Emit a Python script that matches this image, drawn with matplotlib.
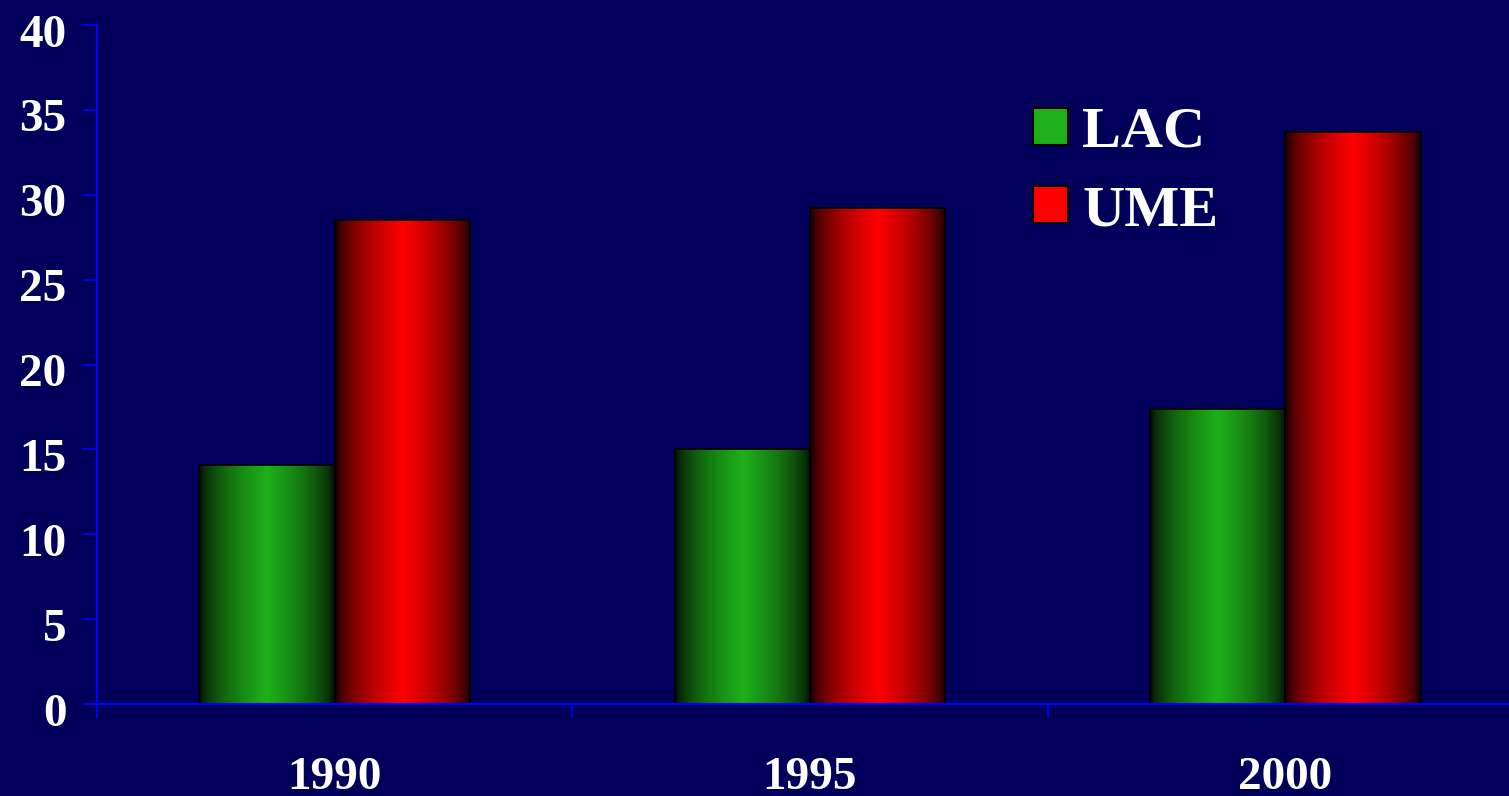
import numpy as np
import matplotlib
matplotlib.use('Agg')
from matplotlib import pyplot as plt
from matplotlib import transforms
from matplotlib.patches import Patch
from matplotlib.colors import to_rgb

years = ['1990', '1995', '2000']
lac = [14.1, 15.0, 17.4]
ume = [28.5, 29.2, 33.7]
series_names = ['LAC', 'UME']

BG = '#00005a'
AXIS_BLUE = '#0000ff'
GREEN = '#1eb01a'
RED = '#ff0000'

plt.rcParams['font.family'] = ['Liberation Serif', 'DejaVu Serif']
plt.rcParams['font.weight'] = 'bold'


def shade_bars(ax, bars, color):
    """Fill each bar with a cylinder-like shading: dark edges, bright middle."""
    t = np.linspace(0, 1, 256)
    profile = np.clip(1 - np.abs(t - 0.5) / 0.5, 0, 1) ** 0.55
    rgb = np.array(to_rgb(color))
    img = (profile[:, None] * rgb[None, :])[None, :, :]
    for b in bars:
        x, y = b.get_x(), b.get_y()
        w, h = b.get_width(), b.get_height()
        im = ax.imshow(img, extent=(x, x + w, y, y + h), aspect='auto',
                       interpolation='bilinear', zorder=2)
        im.set_clip_path(b)


fig = plt.figure(figsize=(15.09, 7.96), dpi=100, facecolor=BG)
ax = fig.add_axes([97 / 1509, 92 / 796, 1426 / 1509, 679 / 796])
ax.set_facecolor(BG)

x = np.arange(len(years))
w = 0.285
bars_lac = ax.bar(x - w / 2, lac, w, color=GREEN, edgecolor='#000000',
                  linewidth=1.2, zorder=3)
bars_ume = ax.bar(x + w / 2, ume, w, color=RED, edgecolor='#000000',
                  linewidth=1.2, zorder=3)
for b in list(bars_lac) + list(bars_ume):
    b.set_facecolor('none')
shade_bars(ax, bars_lac, GREEN)
shade_bars(ax, bars_ume, RED)

ax.set_xlim(-0.5, 2.5)
ax.set_ylim(0, 40)

for s in ['top', 'right']:
    ax.spines[s].set_visible(False)
for s in ['left', 'bottom']:
    ax.spines[s].set_color(AXIS_BLUE)
    ax.spines[s].set_linewidth(1.5)
    ax.spines[s].set_zorder(4)

ax.set_yticks(np.arange(0, 41, 5))
ax.tick_params(axis='y', colors=AXIS_BLUE, labelcolor='white', length=10,
               width=1.2, pad=12, labelsize=34)

# tick marks between categories, year labels centred below
ax.set_xticks([-0.5, 0.5, 1.5])
ax.set_xticklabels([])
ax.set_xticks(x, minor=True)
ax.set_xticklabels(years, minor=True)
ax.tick_params(axis='x', which='major', colors=AXIS_BLUE, length=10,
               width=1.2, direction='out')
ax.tick_params(axis='x', which='minor', length=0, labelcolor='white',
               labelsize=34, pad=38)
for lbl in ax.get_xticklabels(minor=True):
    lbl.set_fontweight('bold')

# y labels sit a touch below their ticks
shift = transforms.ScaledTranslation(0, -4 / 72, fig.dpi_scale_trans)
for lbl in ax.get_yticklabels():
    lbl.set_fontweight('bold')
    lbl.set_transform(lbl.get_transform() + shift)

handles = [Patch(facecolor=GREEN, edgecolor='#000000', linewidth=1.5),
           Patch(facecolor=RED, edgecolor='#000000', linewidth=1.5)]
leg = fig.legend(handles, series_names, loc='upper left',
                 bbox_to_anchor=(992 / 1509, 1 - 66 / 796), frameon=False,
                 prop={'size': 42, 'weight': 'bold'},
                 handlelength=0.6, handleheight=0.6, handletextpad=0.25,
                 labelspacing=0.45, borderpad=0.2)
for t in leg.get_texts():
    t.set_color('white')

fig.savefig('out.png', dpi=100, facecolor=BG)
